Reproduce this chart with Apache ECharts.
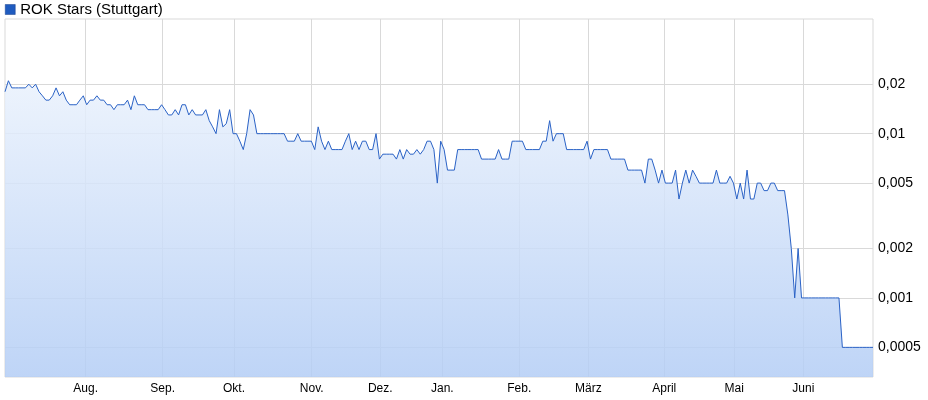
<!DOCTYPE html>
<html><head><meta charset="utf-8">
<script src="https://cdn.jsdelivr.net/npm/echarts@6/dist/echarts.min.js"></script>
<style>html,body{margin:0;padding:0;background:#fff}#c{width:928px;height:400px}</style>
</head><body><div id="c"></div>
<script>
const seriesName = 'ROK Stars (Stuttgart)';
const prices = [
  0.018,0.021,0.019,0.019,0.019,0.019,0.019,0.020,0.019,0.020,
  0.018,0.017,0.016,0.016,0.017,0.019,0.017,0.018,0.016,0.015,
  0.015,0.015,0.016,0.017,0.015,0.016,0.016,0.017,0.016,0.016,
  0.015,0.015,0.014,0.015,0.015,0.015,0.016,0.014,0.017,0.015,
  0.015,0.015,0.014,0.014,0.014,0.014,0.015,0.014,0.013,0.013,
  0.014,0.013,0.015,0.015,0.013,0.014,0.013,0.013,0.013,0.014,
  0.012,0.011,0.010,0.014,0.011,0.0115,0.014,0.010,0.010,0.009,
  0.008,0.010,0.014,0.013,0.010,0.010,0.010,0.010,0.010,0.010,
  0.010,0.010,0.010,0.009,0.009,0.009,0.010,0.009,0.009,0.009,
  0.009,0.008,0.011,0.009,0.008,0.009,0.008,0.008,0.008,0.008,
  0.009,0.010,0.008,0.009,0.008,0.009,0.009,0.008,0.008,0.010,
  0.007,0.0075,0.0075,0.0075,0.0075,0.007,0.008,0.007,0.008,0.0075,
  0.0075,0.008,0.0075,0.008,0.009,0.009,0.008,0.005,0.009,0.008,
  0.006,0.006,0.006,0.008,0.008,0.008,0.008,0.008,0.008,0.008,
  0.007,0.007,0.007,0.007,0.007,0.008,0.007,0.007,0.007,0.009,
  0.009,0.009,0.009,0.008,0.008,0.008,0.008,0.008,0.009,0.009,
  0.012,0.009,0.010,0.010,0.010,0.008,0.008,0.008,0.008,0.008,
  0.008,0.009,0.007,0.008,0.008,0.008,0.008,0.008,0.007,0.007,
  0.007,0.007,0.007,0.006,0.006,0.006,0.006,0.006,0.005,0.007,
  0.007,0.006,0.005,0.006,0.005,0.005,0.005,0.006,0.004,0.005,
  0.006,0.005,0.006,0.0055,0.005,0.005,0.005,0.005,0.005,0.006,
  0.005,0.005,0.005,0.0055,0.005,0.004,0.005,0.004,0.006,0.004,
  0.004,0.005,0.005,0.0045,0.0045,0.005,0.005,0.0045,0.0045,0.0045,
  0.0032,0.002,0.001,0.002,0.001,0.001,0.001,0.001,0.001,0.001,
  0.001,0.001,0.001,0.001,0.001,0.001,0.0005,0.0005,0.0005,0.0005,
  0.0005,0.0005,0.0005,0.0005,0.0005,0.0005
];
const monthLabels = ['Aug.','Sep.','Okt.','Nov.','Dez.','Jan.','Feb.','März','April','Mai','Juni'];
const monthPositions = [23.71, 46.33, 67.27, 90.10, 110.25, 128.47, 151.09, 171.36, 193.68, 214.25, 234.52];
const yTickValues = [0.0005, 0.001, 0.002, 0.005, 0.01, 0.02];
const yTickLabels = ['0,0005','0,001','0,002','0,005','0,01','0,02'];

const FONT = "'Liberation Sans', Arial, sans-serif";
const chart = echarts.init(document.getElementById('c'), null, {renderer: 'canvas'});
function nearestIdx(arr, v) {
  let best = 0, bd = Infinity;
  arr.forEach((a, i) => { const d = Math.abs(a - v) / Math.max(Math.abs(a), 1e-12); if (d < bd) { bd = d; best = i; } });
  return best;
}
chart.setOption({
  animation: false,
  backgroundColor: '#ffffff',
  legend: {
    left: 5, top: 2, padding: 0, itemWidth: 10, itemHeight: 10, icon: 'rect', itemGap: 10,
    textStyle: {fontFamily: FONT, fontSize: 15, color: '#000', padding: [0, 0, 0, 0]},
    data: [{name: seriesName, itemStyle: {color: '#1f5bbf', borderColor: '#163f8a', borderWidth: 0.5}}]
  },
  grid: {left: 5, right: 55, top: 19, bottom: 23, show: true, borderColor: '#d9d9d9', borderWidth: 1, backgroundColor: 'transparent'},
  xAxis: {
    type: 'value', min: 0, max: prices.length - 1,
    axisLine: {show: false},
    axisTick: {show: false, customValues: monthPositions},
    splitLine: {show: true, lineStyle: {color: '#d9d9d9', width: 1}},
    axisLabel: {
      customValues: monthPositions, margin: 6,
      fontFamily: FONT, fontSize: 12, color: '#000',
      formatter: v => monthLabels[nearestIdx(monthPositions, v)]
    }
  },
  yAxis: {
    type: 'log', logBase: 10, position: 'right', min: 0.00033, max: 0.0499,
    axisLine: {show: false},
    axisTick: {show: false, customValues: yTickValues},
    splitLine: {show: true, lineStyle: {color: '#d9d9d9', width: 1}},
    axisLabel: {
      customValues: yTickValues, margin: 5,
      fontFamily: FONT, fontSize: 14, color: '#000',
      formatter: v => yTickLabels[nearestIdx(yTickValues, v)]
    }
  },
  series: [{
    name: seriesName, type: 'line', symbol: 'none', showSymbol: false,
    data: prices.map((p, i) => [i, p]),
    lineStyle: {color: '#2a62c6', width: 1},
    itemStyle: {color: '#1f5bbf'},
    areaStyle: {
      origin: 'start', opacity: 0.85,
      color: {type: 'linear', x: 0, y: 19, x2: 0, y2: 377, global: true,
        colorStops: [{offset: 0, color: '#f5f9fe'}, {offset: 1, color: '#b3cdf5'}]}
    }
  }]
});
</script></body></html>
